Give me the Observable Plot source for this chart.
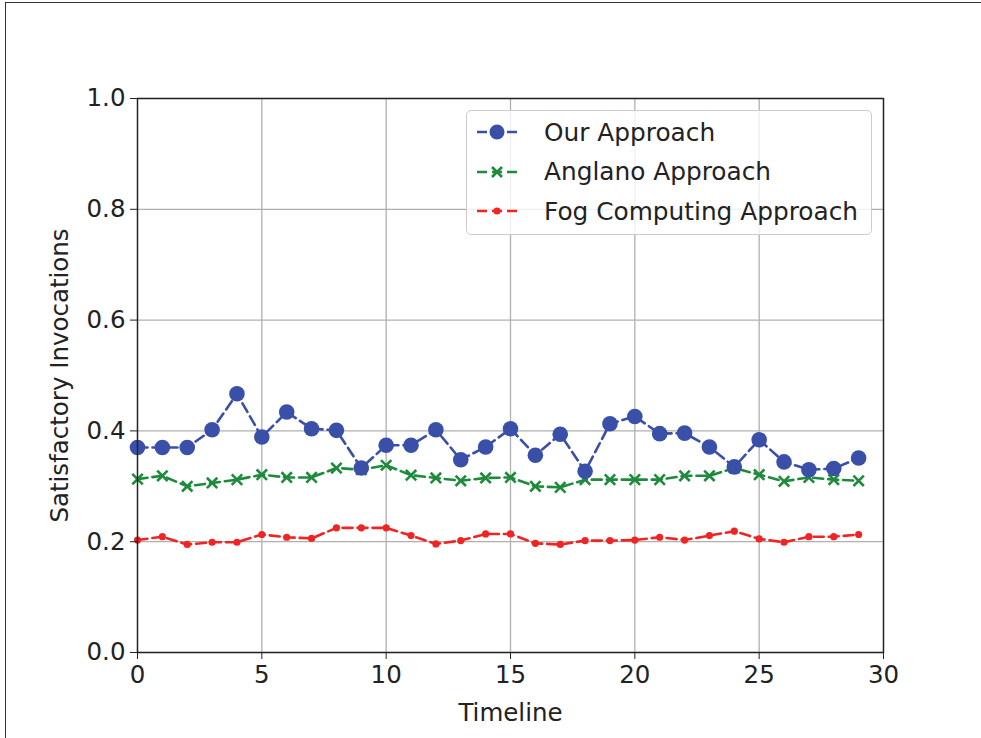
<!DOCTYPE html>
<html>
<head>
<meta charset="utf-8">
<script src="https://cdn.jsdelivr.net/npm/d3@7"></script>
<script src="https://cdn.jsdelivr.net/npm/@observablehq/plot@0.6"></script>
<style>
  body { margin: 0; background: #fff; }
  #wrap { position: relative; width: 981px; height: 738px; overflow: hidden; font-family: "DejaVu Sans", sans-serif; }
  #frame { position: absolute; left: 5px; top: 2px; right: -10px; bottom: -10px; border-left: 1px solid #333; border-top: 1px solid #333; pointer-events: none; }
  #legend { position: absolute; left: 466px; top: 110px; width: 406px; height: 125px; background: rgba(255,255,255,0.8); border: 1px solid #cccccc; border-radius: 5px; box-sizing: border-box; }
  .row { position: absolute; left: 8px; height: 30px; display: flex; align-items: center; }
  .row span { margin-left: 23px; font-size: 24.8px; color: #222; white-space: nowrap; }
</style>
</head>
<body>
<div id="wrap"><div id="frame"></div></div>
<script>
const timeline = [0,1,2,3,4,5,6,7,8,9,10,11,12,13,14,15,16,17,18,19,20,21,22,23,24,25,26,27,28,29];
const seriesNames = ["Our Approach", "Anglano Approach", "Fog Computing Approach"];
const ourApproach = [0.370,0.370,0.370,0.402,0.467,0.389,0.434,0.404,0.401,0.333,0.374,0.374,0.402,0.348,0.371,0.404,0.356,0.394,0.327,0.413,0.426,0.395,0.396,0.371,0.335,0.384,0.344,0.330,0.332,0.351];
const anglanoApproach = [0.313,0.319,0.300,0.306,0.312,0.321,0.316,0.316,0.333,0.330,0.338,0.320,0.315,0.310,0.315,0.316,0.300,0.298,0.312,0.312,0.312,0.312,0.319,0.319,0.333,0.321,0.309,0.316,0.312,0.310];
const fogApproach = [0.203,0.209,0.195,0.199,0.199,0.213,0.208,0.206,0.225,0.225,0.225,0.211,0.196,0.202,0.214,0.214,0.197,0.195,0.202,0.202,0.203,0.208,0.203,0.211,0.219,0.205,0.199,0.209,0.209,0.213];
const xTicks = [0,5,10,15,20,25,30];
const yTicks = [0.0,0.2,0.4,0.6,0.8,1.0];

const colors = ["#3a4fa8", "#1e8a3c", "#f02424"];
const dash = "10,5";

const rows = (vals) => timeline.map((t, i) => ({t, v: vals[i]}));
const ours = rows(ourApproach), angl = rows(anglanoApproach), fog = rows(fogApproach);

const chart = Plot.plot({
  width: 981,
  height: 738,
  marginLeft: 137,
  marginRight: 98,
  marginTop: 98,
  marginBottom: 86,
  style: { fontFamily: "DejaVu Sans, sans-serif", fontSize: "24.5px", color: "#222", background: "transparent" },
  x: { domain: [0, 30] },
  y: { domain: [0, 1] },
  marks: [
    Plot.gridX(xTicks, { stroke: "#b0b0b0", strokeOpacity: 1, strokeWidth: 1.3 }),
    Plot.gridY(yTicks, { stroke: "#b0b0b0", strokeOpacity: 1, strokeWidth: 1.3 }),
    Plot.line(fog, { x: "t", y: "v", stroke: colors[2], strokeWidth: 2.6, strokeDasharray: dash }),
    Plot.dot(fog, { x: "t", y: "v", r: 3.6, fill: colors[2] }),
    Plot.line(angl, { x: "t", y: "v", stroke: colors[1], strokeWidth: 2.6, strokeDasharray: dash }),
    Plot.dot(angl, { x: "t", y: "v", r: 4.8, symbol: "times", stroke: colors[1], strokeWidth: 2.6 }),
    Plot.line(ours, { x: "t", y: "v", stroke: colors[0], strokeWidth: 2.6, strokeDasharray: dash }),
    Plot.dot(ours, { x: "t", y: "v", r: 7.8, fill: colors[0] }),
    Plot.frame({ stroke: "#222", strokeWidth: 1.4 }),
    Plot.axisX(xTicks, { tickSize: 7, tickPadding: 6, tickFormat: d => String(d), label: "Timeline", labelAnchor: "center", labelOffset: 68, labelArrow: "none", stroke: "#222" }),
    Plot.axisY(yTicks, { tickSize: 7, tickPadding: 5, tickFormat: d3.format(".1f"), label: "Satisfactory Invocations", labelAnchor: "center", labelOffset: 87, labelArrow: "none", stroke: "#222" })
  ]
});
const wrap = document.getElementById("wrap");
chart.style.position = "absolute";
chart.style.left = "0px";
chart.style.top = "0px";
wrap.insertBefore(chart, wrap.firstChild);

// legend
const legend = document.createElement("div");
legend.id = "legend";
const markers = [
  c => `<circle cx="22" cy="15" r="7.5" fill="${c}"/>`,
  c => `<path d="M17,10L27,20M27,10L17,20" stroke="${c}" stroke-width="2.6"/>`,
  c => `<circle cx="22" cy="15" r="3.6" fill="${c}"/>`
];
seriesNames.forEach((name, i) => {
  const row = document.createElement("div");
  row.className = "row";
  row.style.top = (6 + i * 39.5) + "px";
  row.innerHTML = `<svg width="46" height="30"><line x1="2" y1="15" x2="44" y2="15" stroke="${colors[i]}" stroke-width="2.6" stroke-dasharray="10,5"/>${markers[i](colors[i])}</svg><span>${name}</span>`;
  legend.appendChild(row);
});
wrap.appendChild(legend);
</script>
</body>
</html>
